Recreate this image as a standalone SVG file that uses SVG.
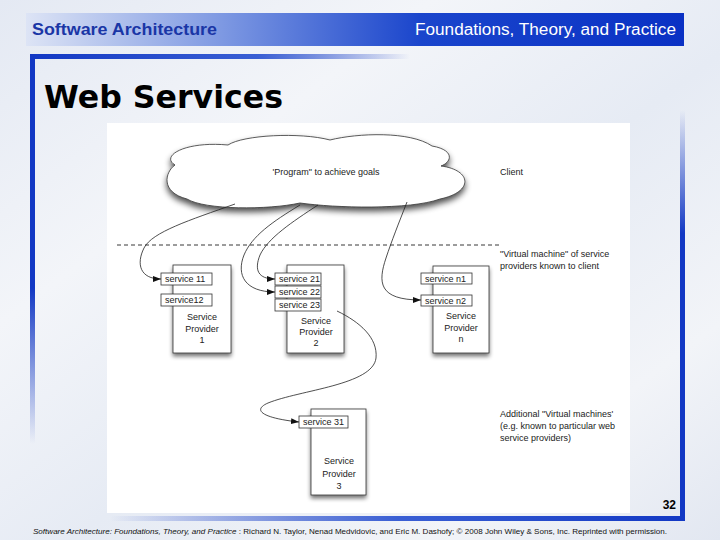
<svg xmlns="http://www.w3.org/2000/svg" width="720" height="540" viewBox="0 0 720 540">
<defs>
<linearGradient id="bg" x1="0" y1="0" x2="1" y2="1">
<stop offset="0" stop-color="#e4e9f3"/>
<stop offset="0.3" stop-color="#f3f5f9"/>
<stop offset="0.55" stop-color="#e6ebf4"/>
<stop offset="0.8" stop-color="#f2f4f8"/>
<stop offset="1" stop-color="#e2e7f1"/>
</linearGradient>
<linearGradient id="banner" x1="0" y1="0" x2="1" y2="0">
<stop offset="0" stop-color="#dde4f5"/>
<stop offset="0.3" stop-color="#7d98e2"/>
<stop offset="0.6" stop-color="#1a45cc"/>
<stop offset="1" stop-color="#0a31c4"/>
</linearGradient>
<linearGradient id="topbar" x1="0" y1="0" x2="1" y2="0">
<stop offset="0" stop-color="#1238c4"/>
<stop offset="0.6" stop-color="#3a5fd4"/>
<stop offset="1" stop-color="#1238c4" stop-opacity="0"/>
</linearGradient>
<linearGradient id="leftbar" x1="0" y1="0" x2="0" y2="1">
<stop offset="0" stop-color="#1238c4"/>
<stop offset="0.6" stop-color="#1238c4"/>
<stop offset="1" stop-color="#1238c4" stop-opacity="0"/>
</linearGradient>
<linearGradient id="rightbar" x1="0" y1="1" x2="0" y2="0">
<stop offset="0" stop-color="#1238c4"/>
<stop offset="0.7" stop-color="#1238c4"/>
<stop offset="1" stop-color="#1238c4" stop-opacity="0"/>
</linearGradient>
<linearGradient id="botbar" x1="1" y1="0" x2="0" y2="0">
<stop offset="0" stop-color="#1238c4"/>
<stop offset="0.5" stop-color="#3a5fd4"/>
<stop offset="1" stop-color="#1238c4" stop-opacity="0"/>
</linearGradient>
<filter id="shadow" x="-20%" y="-20%" width="140%" height="150%">
<feGaussianBlur in="SourceAlpha" stdDeviation="2"/>
<feOffset dx="0" dy="3" result="b"/>
<feComponentTransfer><feFuncA type="linear" slope="0.55"/></feComponentTransfer>
<feMerge><feMergeNode/><feMergeNode in="SourceGraphic"/></feMerge>
</filter>
<filter id="cshadow" x="-20%" y="-30%" width="140%" height="170%">
<feGaussianBlur in="SourceAlpha" stdDeviation="3"/>
<feOffset dx="0" dy="4" result="b"/>
<feComponentTransfer><feFuncA type="linear" slope="0.7"/></feComponentTransfer>
<feMerge><feMergeNode/><feMergeNode in="SourceGraphic"/></feMerge>
</filter>
<marker id="arr" viewBox="0 0 8 6" refX="8" refY="3" markerWidth="8" markerHeight="6" markerUnits="userSpaceOnUse" orient="auto">
<path d="M0,0 L8,3 L0,6 Z" fill="#111"/>
</marker>
</defs>
<style>
.box{fill:#fff;stroke:#333;stroke-width:0.8}
.svc{fill:#fff;stroke:#333;stroke-width:0.8}
.t{font-family:"Liberation Sans",Arial,sans-serif;font-size:9px;fill:#222}
.st{font-family:"Liberation Sans",Arial,sans-serif;font-size:9px;fill:#222;text-anchor:middle}
.c{fill:none;stroke:#222;stroke-width:0.8}
</style>
<rect x="0" y="0" width="720" height="540" fill="url(#bg)"/>
<!-- header banner -->
<rect x="26" y="13" width="658" height="33" fill="url(#banner)"/>
<text x="32" y="35" font-family="'Liberation Sans',Arial,sans-serif" font-size="17" font-weight="bold" fill="#1a36a6" textLength="185" lengthAdjust="spacingAndGlyphs">Software Architecture</text>
<text x="415" y="35" font-family="'Liberation Sans',Arial,sans-serif" font-size="16" fill="#fff" textLength="261" lengthAdjust="spacingAndGlyphs">Foundations, Theory, and Practice</text>
<!-- frame -->
<rect x="30" y="54" width="380" height="5" fill="url(#topbar)"/>
<rect x="30" y="54" width="5" height="390" fill="url(#leftbar)"/>
<rect x="680" y="110" width="5" height="411" fill="url(#rightbar)"/>
<rect x="110" y="516" width="575" height="5" fill="url(#botbar)"/>
<text x="44" y="108" font-family="'DejaVu Sans',Verdana,sans-serif" font-size="32" font-weight="bold" fill="#000" textLength="239" lengthAdjust="spacingAndGlyphs">Web Services</text>
<!-- diagram canvas -->
<rect x="107" y="123" width="523" height="390" fill="#fff"/>
<g id="client">
<path filter="url(#cshadow)" fill="#fff" stroke="#333" stroke-width="0.8" d="M175,165 C160,156 185,141 228,145 C243,135 300,132 330,140 C358,133 410,131 432,146 C455,150 452,162 441,166 C472,170 474,192 440,199 C410,210 335,208 300,203 C268,210 205,210 187,199 C160,192 165,172 175,165 Z"/>
<text class="st" x="326" y="175">'Program" to achieve goals</text>
<text class="t" x="500" y="175">Client</text>
</g>
<g id="vm-labels">
<text class="t" x="500" y="257">"Virtual machine" of service</text>
<text class="t" x="500" y="269">providers known to client</text>
<text class="t" x="500" y="417">Additional "Virtual machines'</text>
<text class="t" x="500" y="429">(e.g. known to particular web</text>
<text class="t" x="500" y="441">service providers)</text>
</g>
<g id="provider1">
<rect class="box" filter="url(#shadow)" x="173" y="265" width="58" height="88"/>
<rect class="svc" x="161" y="273" width="51" height="12"/>
<text class="t" x="165" y="282">service 11</text>
<rect class="svc" x="161" y="294" width="51" height="12"/>
<text class="t" x="165" y="303">service12</text>
<text class="st" x="202" y="320">Service</text>
<text class="st" x="202" y="332">Provider</text>
<text class="st" x="202" y="343">1</text>
</g>
<g id="provider2">
<rect class="box" filter="url(#shadow)" x="287" y="265" width="57" height="88"/>
<rect class="svc" x="275" y="273" width="46" height="12"/>
<text class="t" x="279" y="282">service 21</text>
<rect class="svc" x="275" y="286" width="46" height="12"/>
<text class="t" x="279" y="295">service 22</text>
<rect class="svc" x="275" y="299" width="46" height="12"/>
<text class="t" x="279" y="308">service 23</text>
<text class="st" x="316" y="324">Service</text>
<text class="st" x="316" y="335">Provider</text>
<text class="st" x="316" y="346">2</text>
</g>
<g id="providern">
<rect class="box" filter="url(#shadow)" x="433" y="266" width="56" height="87"/>
<rect class="svc" x="421" y="273" width="51" height="11"/>
<text class="t" x="425" y="282">service n1</text>
<rect class="svc" x="421" y="295" width="51" height="11"/>
<text class="t" x="425" y="304">service n2</text>
<text class="st" x="461" y="319">Service</text>
<text class="st" x="461" y="331">Provider</text>
<text class="st" x="461" y="342">n</text>
</g>
<g id="provider3">
<rect class="box" filter="url(#shadow)" x="311" y="409" width="55" height="86"/>
<rect class="svc" x="299" y="416" width="49" height="12"/>
<text class="t" x="303" y="425">service 31</text>
<text class="st" x="339" y="464">Service</text>
<text class="st" x="339" y="477">Provider</text>
<text class="st" x="339" y="489">3</text>
</g>
<g id="connectors">
<line x1="117" y1="245" x2="499" y2="245" stroke="#222" stroke-width="0.9" stroke-dasharray="4,3"/>
<path class="c" marker-end="url(#arr)" d="M235,204 C190,220 152,232 144,248 C136,264 140,279 161,279"/>
<path class="c" marker-end="url(#arr)" d="M300,205 C272,222 252,236 244,255 C236,275 245,292 275,292"/>
<path class="c" marker-end="url(#arr)" d="M318,205 C292,222 268,238 260,255 C254,270 258,279 275,279"/>
<path class="c" marker-end="url(#arr)" d="M407,202 C398,225 392,240 386,258 C378,282 378,300 421,300"/>
<path class="c" marker-end="url(#arr)" d="M337,311 C360,322 378,338 376,358 C373,385 300,390 268,403 C252,410 262,418 299,422"/>
</g>
<text x="676" y="509" font-family="'Liberation Sans',Arial,sans-serif" font-size="12" font-weight="bold" fill="#000" text-anchor="end">32</text>
<text x="33" y="534" font-family="'Liberation Sans',Arial,sans-serif" font-size="7" fill="#111" textLength="634" lengthAdjust="spacingAndGlyphs"><tspan font-style="italic">Software Architecture: Foundations, Theory, and Practice</tspan> : Richard N. Taylor, Nenad Medvidovic, and Eric M. Dashofy; © 2008 John Wiley &amp; Sons, Inc. Reprinted with permission.</text>
</svg>
